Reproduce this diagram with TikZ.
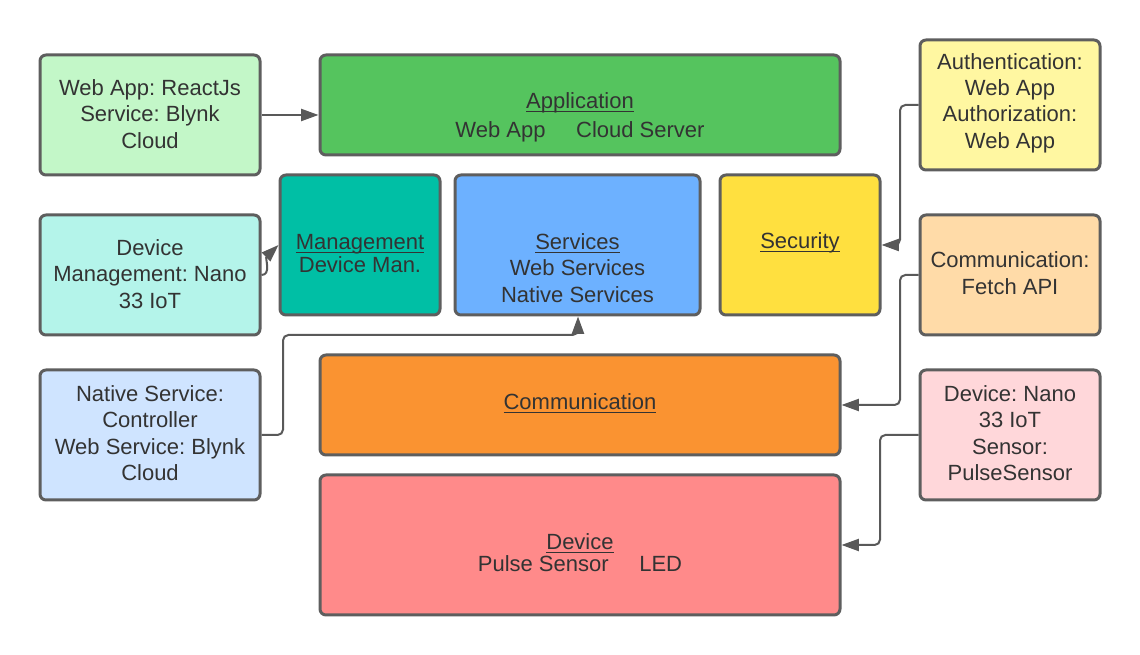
\documentclass[tikz,border=0pt]{standalone}
\usepackage{fontspec}
\setmainfont{Liberation Sans}
\frenchspacing
\usetikzlibrary{arrows.meta}
\newcommand\ulbox[1]{\setbox0\hbox{#1}\rlap{\rule[-2.6pt]{\wd0}{0.8pt}}\box0}
\definecolor{bordc}{HTML}{5E5E5E}
\definecolor{linec}{HTML}{595959}
\definecolor{txtc}{HTML}{333333}
\definecolor{cWebApp}{HTML}{C3F7C8}
\definecolor{cApp}{HTML}{55C45E}
\definecolor{cDevMan}{HTML}{B4F4EA}
\definecolor{cMan}{HTML}{00BFA5}
\definecolor{cServ}{HTML}{6DB1FF}
\definecolor{cSec}{HTML}{FFE03F}
\definecolor{cAuth}{HTML}{FFF7A1}
\definecolor{cCommR}{HTML}{FFDBA8}
\definecolor{cNative}{HTML}{CFE4FF}
\definecolor{cComm}{HTML}{FA9331}
\definecolor{cDevR}{HTML}{FFD7DA}
\definecolor{cDev}{HTML}{FF8A8A}
\tikzset{
  box/.style n args={3}{draw=bordc, line width=2.25pt, rounded corners=4.5pt,
    fill=#1, inner sep=0pt, minimum width=#2*0.75pt, minimum height=#3*0.75pt},
  txt/.style={font=\fontsize{16.5}{19.8}\selectfont, text=txtc, align=center, inner sep=0pt},
  arr/.style={draw=linec, line width=1.5pt, rounded corners=4pt,
    -{Triangle[length=13pt,width=9pt]}}
}
\begin{document}
\begin{tikzpicture}[x=0.75pt, y=-0.75pt]
\useasboundingbox (0,0) rectangle (1140,655);
% boxes
\node[box={cWebApp}{220}{120}] (webapp) at (150,115) {};
\node[box={cApp}{520}{100}] (app) at (580,105) {};
\node[box={cDevMan}{220}{120}] (dm) at (150,275) {};
\node[box={cMan}{160}{140}] (mg) at (360,245) {};
\node[box={cServ}{245}{140}] (serv) at (577.5,245) {};
\node[box={cSec}{160}{140}] (sec) at (800,245) {};
\node[box={cAuth}{180}{130}] (auth) at (1010,105) {};
\node[box={cCommR}{180}{120}] (commr) at (1010,275) {};
\node[box={cNative}{220}{130}] (native) at (150,435) {};
\node[box={cComm}{520}{100}] (comm) at (580,405) {};
\node[box={cDevR}{180}{130}] (devr) at (1010,435) {};
\node[box={cDev}{520}{140}] (dev) at (580,545) {};
% texts
\node[txt] (webappT) at (150,114) {Web App: ReactJs\\Service: Blynk\\Cloud};
\node[txt] (appT) at (580,117) {\ulbox{Application}\\[2pt]Web App\hspace*{23pt}Cloud Server};
\node[txt] (dmT) at (150,274) {Device\\Management: Nano\\33 IoT};
\node[txt] (mgT) at (360,254) {\ulbox{Management}\\[-2.6pt]Device Man.};
\node[txt] (servT) at (577.5,268) {\ulbox{Services}\\Web Services\\Native Services};
\node[txt] (secT) at (800,243) {\ulbox{Security}};
\node[txt] (authT) at (1010,103) {Authentication:\\Web App\\Authorization:\\Web App};
\node[txt] (commrT) at (1010,273) {Communication:\\Fetch API};
\node[txt] (nativeT) at (150,433) {Native Service:\\Controller\\Web Service: Blynk\\Cloud};
\node[txt] (commT) at (580,403) {\ulbox{Communication}};
\node[txt] (devrT) at (1010,433) {Device: Nano\\33 IoT\\Sensor:\\PulseSensor};
\node[txt] (devT) at (580,553) {\ulbox{Device}\\[-3.3pt]Pulse Sensor\hspace*{23pt}LED};
% connectors
\draw[arr] (webapp.east) -- (app.west |- webapp.east);
\draw[arr, rounded corners=0pt] (dm.east) .. controls +(10,0) and (265,258) .. (mg.west);
\coordinate (nvA) at (283,435);
\coordinate (nvB) at (283,335);
\coordinate (nvC) at (578,335);
\draw[arr] (native.east) -- (nvA) -- (nvB) -- (nvC) -- (nvC |- serv.south);
\coordinate (auA) at (900,105);
\coordinate (auB) at (900,245);
\draw[arr] (auth.west) -- (auA) -- (auB) -- (sec.east);
\coordinate (crA) at (900,275);
\coordinate (crB) at (900,405);
\draw[arr] (commr.west) -- (crA) -- (crB) -- (comm.east);
\coordinate (drA) at (880,435);
\coordinate (drB) at (880,545);
\draw[arr] (devr.west) -- (drA) -- (drB) -- (dev.east);
\end{tikzpicture}
\end{document}
